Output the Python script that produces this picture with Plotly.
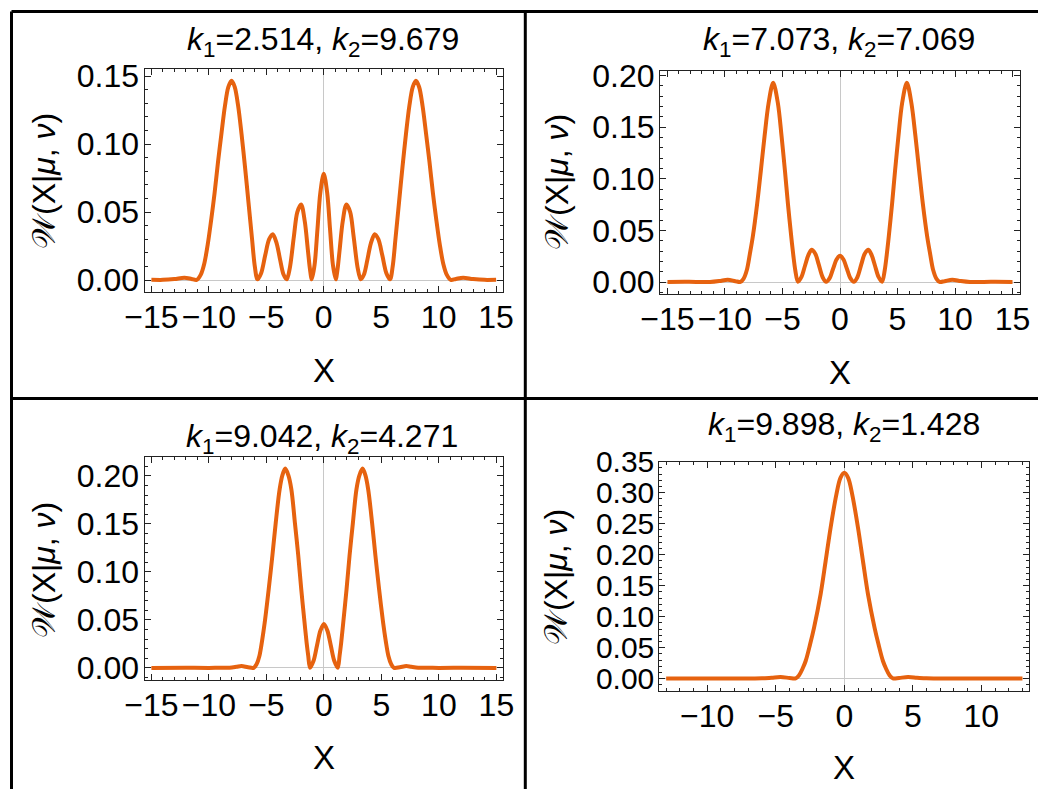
import plotly.graph_objects as go

W, H = 1046, 789
OFF = 8  # the page body margin shifts the figure; compensate so marks land where the reference has them

# ---------------- data ----------------
titles = ["<i>k</i><sub>1</sub>=2.514, <i>k</i><sub>2</sub>=9.679",
          "<i>k</i><sub>1</sub>=7.073, <i>k</i><sub>2</sub>=7.069",
          "<i>k</i><sub>1</sub>=9.042, <i>k</i><sub>2</sub>=4.271",
          "<i>k</i><sub>1</sub>=9.898, <i>k</i><sub>2</sub>=1.428"]

x1 = [-15, -14, -13, -12.13, -11.5, -11.06, -10.7, -10.4, -10.1, -9.8, -9.5, -9.2, -8.9, -8.6, -8.3,
      -8.02, -7.75, -7.45, -7.15, -6.85, -6.55, -6.25, -6.0, -5.77, -5.45, -5.1, -4.75, -4.43, -4.1,
      -3.8, -3.5, -3.22, -2.95, -2.6, -2.3, -1.97, -1.65, -1.38, -1.2, -1.04, -0.8, -0.55, -0.3, 0,
      0.3, 0.55, 0.8, 1.04, 1.2, 1.38, 1.65, 1.97, 2.3, 2.6, 2.95, 3.22, 3.5, 3.8, 4.1, 4.43, 4.75,
      5.1, 5.45, 5.77, 6.0, 6.25, 6.55, 6.85, 7.15, 7.45, 7.75, 8.02, 8.3, 8.6, 8.9, 9.2, 9.5, 9.8,
      10.1, 10.4, 10.7, 11.06, 11.5, 12.13, 13, 14, 15]
y1 = [0.0002, 0.0001, 0.0007, 0.0017, 0.0008, 0.0001, 0.004, 0.012, 0.026, 0.044, 0.064, 0.087, 0.108,
      0.128, 0.142, 0.1465, 0.142, 0.128, 0.107, 0.083, 0.057, 0.031, 0.010, 0.0005, 0.005, 0.018,
      0.030, 0.0336, 0.027, 0.015, 0.004, 0.0005, 0.009, 0.032, 0.050, 0.0556, 0.043, 0.022, 0.008,
      0.0005, 0.011, 0.037, 0.064, 0.0782,
      0.064, 0.037, 0.011, 0.0005, 0.008, 0.022, 0.043, 0.0556, 0.050, 0.032, 0.009, 0.0005, 0.004,
      0.015, 0.027, 0.0336, 0.030, 0.018, 0.005, 0.0005, 0.010, 0.031, 0.057, 0.083, 0.107, 0.128,
      0.142, 0.1465, 0.142, 0.128, 0.108, 0.087, 0.064, 0.044, 0.026, 0.012, 0.004, 0.0001, 0.0008,
      0.0017, 0.0007, 0.0001, 0.0002]

x2 = [-15, -13.5, -12.5, -11.3, -10.5, -9.76, -9.1, -8.66, -8.39, -8.10, -7.84, -7.58, -7.2, -6.88,
      -6.56, -6.21, -5.81, -5.40, -5.08, -4.79, -4.53, -4.24, -4.05, -3.89, -3.66, -3.35, -3.05,
      -2.75, -2.47, -2.15, -1.85, -1.5, -1.2, -0.9, -0.6, -0.3, 0,
      0.3, 0.6, 0.9, 1.2, 1.5, 1.85, 2.15, 2.47, 2.75, 3.05, 3.35, 3.66, 3.89, 4.05, 4.24, 4.53,
      4.79, 5.08, 5.40, 5.81, 6.21, 6.56, 6.88, 7.2, 7.58, 7.84, 8.10, 8.39, 8.66, 9.1, 9.76, 10.5,
      11.3, 12.5, 13.5, 15]
y2 = [0.0001, 0.0002, 0.0001, 0.0, 0.0009, 0.0023, 0.0008, 0.0001, 0.003, 0.0116, 0.027, 0.044,
      0.076, 0.108, 0.141, 0.173, 0.1929, 0.173, 0.141, 0.108, 0.076, 0.044, 0.025, 0.0116, 0.0003,
      0.005, 0.0155, 0.026, 0.0313, 0.0274, 0.017, 0.0044, 0.0003, 0.0037, 0.0128, 0.0218, 0.0255,
      0.0218, 0.0128, 0.0037, 0.0003, 0.0044, 0.017, 0.0274, 0.0313, 0.026, 0.0155, 0.005, 0.0003,
      0.0116, 0.025, 0.044, 0.076, 0.108, 0.141, 0.173, 0.1929, 0.173, 0.141, 0.108, 0.076, 0.044,
      0.027, 0.0116, 0.003, 0.0001, 0.0008, 0.0023, 0.0009, 0.0, 0.0001, 0.0002, 0.0001]

x3 = [-15, -12, -10, -9, -8.2, -7.6, -7.17, -6.6, -6.1, -5.85, -5.61, -5.38, -5.15, -4.80, -4.48,
      -4.19, -3.85, -3.6, -3.36, -3.1, -2.83, -2.52, -2.23, -1.97, -1.68, -1.5, -1.36, -1.21, -0.9,
      -0.6, -0.3, 0,
      0.3, 0.6, 0.9, 1.21, 1.36, 1.5, 1.68, 1.97, 2.23, 2.52, 2.83, 3.1, 3.36, 3.6, 3.85, 4.19,
      4.48, 4.80, 5.15, 5.38, 5.61, 5.85, 6.1, 6.6, 7.17, 7.6, 8.2, 9, 10, 12, 15]
y3 = [0.0001, 0.0002, 0.0001, 0.0003, 0.0002, 0.0012, 0.0021, 0.0008, 0.0002, 0.004, 0.0125, 0.028,
      0.047, 0.082, 0.117, 0.151, 0.186, 0.201, 0.2076, 0.201, 0.186, 0.151, 0.117, 0.082, 0.047,
      0.026, 0.0125, 0.0003, 0.0075, 0.0234, 0.039, 0.0458,
      0.039, 0.0234, 0.0075, 0.0003, 0.0125, 0.026, 0.047, 0.082, 0.117, 0.151, 0.186, 0.201,
      0.2076, 0.201, 0.186, 0.151, 0.117, 0.082, 0.047, 0.028, 0.0125, 0.004, 0.0002, 0.0008,
      0.0021, 0.0012, 0.0002, 0.0003, 0.0001, 0.0002, 0.0001]

x4 = [-13, -11, -9, -7, -6, -5.3, -4.65, -4.0, -3.55, -3.31, -3.05, -2.82, -2.5, -2.21, -1.73,
      -1.36, -1.0, -0.58, -0.28, 0,
      0.28, 0.58, 1.0, 1.36, 1.73, 2.21, 2.5, 2.82, 3.05, 3.31, 3.55, 4.0, 4.65, 5.3, 6, 7, 9, 11, 13]
y4 = [0.0001, 0.0001, 0.0001, 0.0002, 0.0005, 0.0015, 0.0025, 0.0012, 0.0005, 0.005, 0.016, 0.0285,
      0.055, 0.082, 0.136, 0.19, 0.2435, 0.297, 0.324, 0.332,
      0.324, 0.297, 0.2435, 0.19, 0.136, 0.082, 0.055, 0.0285, 0.016, 0.005, 0.0005, 0.0012, 0.0025,
      0.0015, 0.0005, 0.0002, 0.0001, 0.0001, 0.0001]

xs = [x1, x2, x3, x4]
ys = [y1, y2, y3, y4]
x_ticks = [[-15, -10, -5, 0, 5, 10, 15], [-15, -10, -5, 0, 5, 10, 15],
           [-15, -10, -5, 0, 5, 10, 15], [-10, -5, 0, 5, 10]]
y_ticks = [[0.0, 0.05, 0.10, 0.15], [0.0, 0.05, 0.10, 0.15, 0.20],
           [0.0, 0.05, 0.10, 0.15, 0.20], [0.0, 0.05, 0.10, 0.15, 0.20, 0.25, 0.30, 0.35]]

# ---------------- layout geometry (pixels in the reference) ----------------
boxes = [(144.5, 503.0, 69.3, 291.7), (660.0, 1020.0, 70.7, 294.0),
         (144.5, 503.3, 456.7, 680.0), (659.3, 1029.3, 461.7, 690.7)]
xranges = [[-15.6, 15.6], [-15.65, 15.65], [-15.6, 15.6], [-13.5, 13.5]]
yranges = [[-0.0086, 0.155], [-0.0116, 0.2045], [-0.0125, 0.220], [-0.0194, 0.350]]
title_pos = [(323, 41), (839, 42), (322, 438), (844, 427)]
ylab_pos = [(44, 181), (557, 182), (44, 570), (556, 577)]
xlab_pos = [(324, 370), (840, 372), (324, 757), (844, 767)]


def px(p):
    return (p - OFF) / W


def py(p):
    return 1 - (p - OFF) / H


COLOR = "#e6620f"
FONT = "Liberation Sans, Arial, sans-serif"
FRAME = "#222222"

fig = go.Figure()
layout = dict(width=W, height=H, margin=dict(l=0, r=0, t=0, b=0, pad=0), autosize=False,
              paper_bgcolor="white", plot_bgcolor="white", showlegend=False,
              annotations=[], shapes=[])

for i in range(4):
    sfx = "" if i == 0 else str(i + 1)
    fig.add_trace(go.Scatter(x=xs[i], y=ys[i], mode="lines",
                             line=dict(color=COLOR, width=4, shape="spline", smoothing=0.9),
                             xaxis="x" + sfx, yaxis="y" + sfx, hoverinfo="skip"))
    x0, x1p, yt, yb = boxes[i]
    ysize = 30 if i == 3 else 32
    common = dict(showline=True, linecolor=FRAME, linewidth=1, mirror="allticks",
                  ticks="inside", ticklen=6, tickcolor=FRAME, tickwidth=1, automargin=False,
                  showgrid=False, zeroline=True, zerolinecolor="#c8c8c8", zerolinewidth=1)
    layout["xaxis" + sfx] = dict(common, domain=[px(x0), px(x1p)], range=xranges[i],
                                 anchor="y" + sfx, tickvals=x_ticks[i],
                                 ticklabelstandoff=-3,
                                 tickfont=dict(family=FONT, size=32, color="black"),
                                 minor=dict(dtick=1, ticklen=3, ticks="inside", tickcolor=FRAME,
                                            showgrid=False))
    layout["yaxis" + sfx] = dict(common, domain=[py(yb), py(yt)], range=yranges[i],
                                 anchor="x" + sfx, tickvals=y_ticks[i], tickformat=".2f",
                                 ticklabelstandoff=-2,
                                 tickfont=dict(family=FONT, size=ysize, color="black"),
                                 minor=dict(dtick=0.01, ticklen=3, ticks="inside", tickcolor=FRAME,
                                            showgrid=False))
    tx, ty = title_pos[i]
    layout["annotations"].append(dict(text=titles[i], x=px(tx), y=py(ty), xref="paper",
                                      yref="paper", showarrow=False, xanchor="center",
                                      yanchor="middle",
                                      font=dict(family=FONT, size=32, color="black")))
    lx, ly = ylab_pos[i]
    layout["annotations"].append(dict(text="𝒲(X|<i>μ</i>, <i>ν</i>)", x=px(lx), y=py(ly),
                                      xref="paper", yref="paper", showarrow=False,
                                      textangle=-90, xanchor="center", yanchor="middle",
                                      font=dict(family=FONT, size=32, color="black")))
    ax, ay = xlab_pos[i]
    layout["annotations"].append(dict(text="X", x=px(ax), y=py(ay), xref="paper",
                                      yref="paper", showarrow=False, xanchor="center",
                                      yanchor="middle",
                                      font=dict(family=FONT, size=33, color="black")))

# outer panel borders
bw = 3
for (xa, ya, xb, yb2) in [(11.5, 11.5, 1040, 11.5), (11.5, 11.5, 11.5, 800),
                          (1040, 11.5, 1040, 800), (525.3, 11.5, 525.3, 800),
                          (11.5, 398.5, 1040, 398.5)]:
    layout["shapes"].append(dict(type="line", xref="paper", yref="paper",
                                 x0=px(xa), y0=py(ya), x1=px(xb), y1=py(yb2),
                                 line=dict(color="black", width=bw)))

fig.update_layout(**layout)
fig.write_html("out.html")
